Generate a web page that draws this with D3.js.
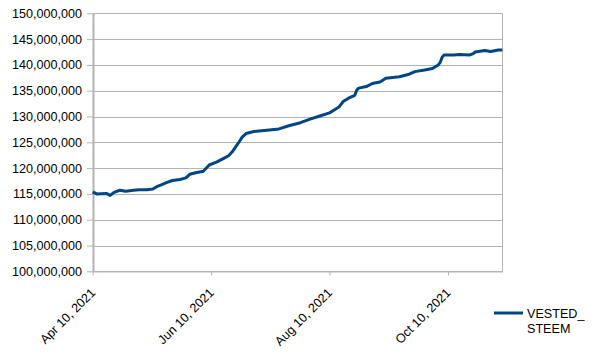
<!DOCTYPE html>
<html lang="en">
<head>
  <meta charset="UTF-8">
  <title>VESTED_STEEM</title>
  <style>
    body { margin: 0; background: #fff; }
    text { font-family: "Liberation Sans", Arial, sans-serif; fill: #000; }
  </style>
</head>
<body>
  <script src="https://d3js.org/d3.v7.min.js"></script>
  <script>
    // data (values in millions)
    const dates = ['2021-04-10','2021-04-12','2021-04-17','2021-04-19','2021-04-21','2021-04-24','2021-04-27',
      '2021-05-01','2021-05-04','2021-05-08','2021-05-11','2021-05-13','2021-05-15','2021-05-18','2021-05-21',
      '2021-05-25','2021-05-28','2021-05-30','2021-06-02','2021-06-06','2021-06-09','2021-06-13','2021-06-16',
      '2021-06-19','2021-06-21','2021-06-23','2021-06-25','2021-06-26','2021-06-28','2021-07-02','2021-07-10',
      '2021-07-15','2021-07-20','2021-07-26','2021-07-31','2021-08-05','2021-08-10','2021-08-13','2021-08-15',
      '2021-08-17','2021-08-20','2021-08-23','2021-08-24','2021-08-25','2021-08-29','2021-09-01','2021-09-05',
      '2021-09-08','2021-09-15','2021-09-20','2021-09-23','2021-09-28','2021-10-02','2021-10-05','2021-10-06',
      '2021-10-07','2021-10-08','2021-10-13','2021-10-16','2021-10-21','2021-10-23','2021-10-24','2021-10-29',
      '2021-11-01','2021-11-05','2021-11-07'];
    const vestedSteem = [115.4,115.0,115.1,114.7,115.3,115.7,115.5,
      115.7,115.8,115.8,115.95,116.4,116.7,117.2,117.6,
      117.8,118.1,118.8,119.1,119.4,120.6,121.2,121.8,
      122.4,123.2,124.3,125.4,126.0,126.7,127.1,127.4,
      127.6,128.2,128.8,129.5,130.1,130.7,131.4,131.9,
      132.9,133.6,134.1,135.1,135.5,135.8,136.4,136.7,
      137.4,137.7,138.2,138.7,139.0,139.3,140.0,140.5,
      141.5,141.9,141.9,142.0,141.9,142.2,142.5,142.8,
      142.6,142.9,142.9];
    const yTicks = [100,105,110,115,120,125,130,135,140,145,150];
    const xTicks = ['2021-04-10','2021-06-10','2021-08-10','2021-10-10'];
    const seriesName = ['VESTED_', 'STEEM'];

    const WIDTH = 604, HEIGHT = 354;
    const plot = {left: 92.7, right: 502.3, top: 13.3, bottom: 271.3};
    const parse = d3.timeParse('%Y-%m-%d');
    const data = dates.map((d, i) => ({date: parse(d), value: vestedSteem[i] * 1e6}));

    const xScale = d3.scaleTime()
      .domain([parse('2021-04-10'), parse('2021-11-07')])
      .range([plot.left, plot.right]);
    const yScale = d3.scaleLinear()
      .domain([100e6, 150e6])
      .range([plot.bottom, plot.top]);

    const svg = d3.select('body').append('svg')
      .attr('width', WIDTH)
      .attr('height', HEIGHT);

    const grey = '#b3b3b3';

    // horizontal grid lines
    svg.append('g').selectAll('line')
      .data(yTicks)
      .join('line')
      .attr('x1', plot.left).attr('x2', plot.right)
      .attr('y1', d => Math.round(yScale(d * 1e6)) + 0.5)
      .attr('y2', d => Math.round(yScale(d * 1e6)) + 0.5)
      .attr('stroke', grey);

    // right border
    svg.append('line')
      .attr('x1', Math.round(plot.right) + 0.5).attr('x2', Math.round(plot.right) + 0.5)
      .attr('y1', plot.top).attr('y2', plot.bottom)
      .attr('stroke', grey);

    // y axis
    const yAxis = d3.axisLeft(yScale)
      .tickValues(yTicks.map(d => d * 1e6))
      .tickFormat(d3.format(','))
      .tickSizeInner(6).tickSizeOuter(0).tickPadding(5);
    const yAxisG = svg.append('g')
      .attr('transform', `translate(${Math.round(plot.left)},0)`)
      .call(yAxis);
    yAxisG.select('.domain').attr('stroke', grey).attr('stroke-width', 2);
    yAxisG.selectAll('.tick line').attr('stroke', grey);
    yAxisG.selectAll('.tick text')
      .style('font-family', '"Liberation Sans", Arial, sans-serif')
      .style('font-size', '12.6px').attr('fill', '#000');

    // x axis
    const xAxis = d3.axisBottom(xScale)
      .tickValues(xTicks.map(parse))
      .tickFormat(d3.timeFormat('%b %-d, %Y'))
      .tickSizeInner(4).tickSizeOuter(0);
    const xAxisG = svg.append('g')
      .attr('transform', `translate(0,${Math.round(plot.bottom) + 0.5})`)
      .call(xAxis);
    xAxisG.select('.domain').attr('stroke', grey);
    xAxisG.selectAll('.tick line').attr('stroke', grey);
    xAxisG.selectAll('.tick text')
      .style('font-family', '"Liberation Sans", Arial, sans-serif')
      .style('font-size', '12.6px').attr('fill', '#000')
      .attr('text-anchor', 'end')
      .attr('dy', 0).attr('y', 0)
      .attr('transform', 'translate(3,22) rotate(-45)');

    // the series line
    const line = d3.line()
      .x(d => xScale(d.date))
      .y(d => yScale(d.value));
    svg.append('path')
      .datum(data)
      .attr('d', line)
      .attr('fill', 'none')
      .attr('stroke', '#004586')
      .attr('stroke-width', 3)
      .attr('stroke-linejoin', 'round');

    // legend
    const legend = svg.append('g').attr('transform', 'translate(494,313)');
    legend.append('line')
      .attr('x1', 0).attr('x2', 29).attr('y1', 0).attr('y2', 0)
      .attr('stroke', '#004586').attr('stroke-width', 3);
    legend.selectAll('text')
      .data(seriesName)
      .join('text')
      .attr('x', 33)
      .attr('y', (d, i) => 4.5 + i * 15)
      .style('font-size', '12.6px')
      .text(d => d);
  </script>
</body>
</html>
